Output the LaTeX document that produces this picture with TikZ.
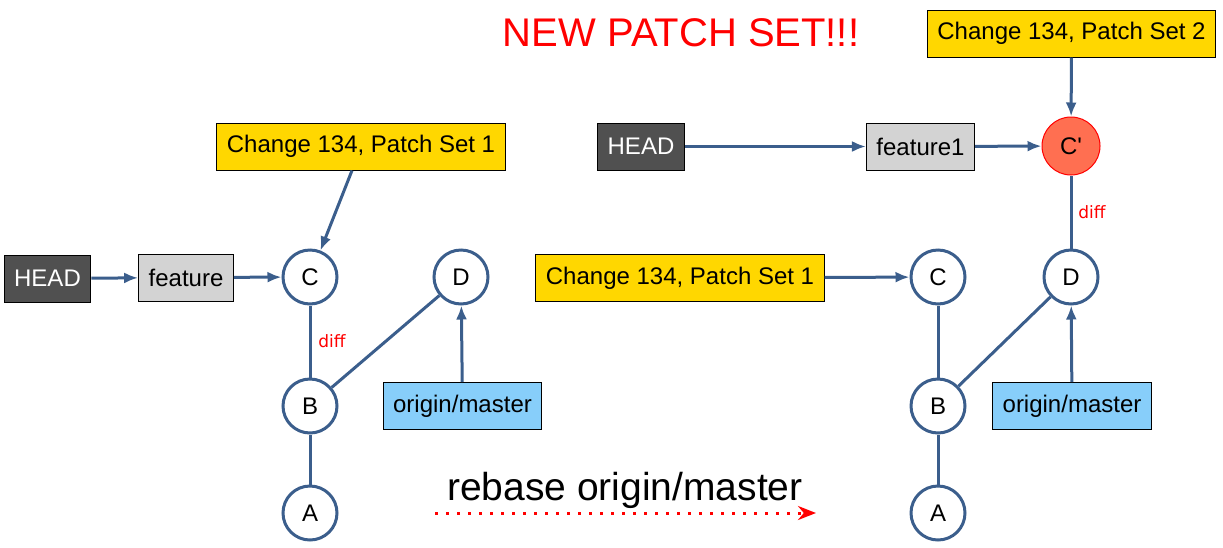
\documentclass[tikz,border=0pt]{standalone}
\usepackage{fontspec}
\setmainfont{Liberation Sans}
\newfontfamily\difffont{DejaVu Sans}
\usetikzlibrary{arrows.meta}
\definecolor{edgeblue}{RGB}{59,94,140}
\definecolor{headgray}{RGB}{80,80,80}
\definecolor{branchgray}{RGB}{211,211,211}
\definecolor{patchgold}{RGB}{255,215,0}
\definecolor{remoteblue}{RGB}{135,206,250}
\definecolor{newcommit}{RGB}{255,111,81}

\begin{document}
\begin{tikzpicture}[x=1pt, y=-1pt, font=\fontsize{24}{28}\selectfont, >={Latex[length=14pt,width=11pt]},
  link/.style={draw=edgeblue, line width=3pt},
  commit/.style={circle, draw=edgeblue, line width=3pt, fill=white, minimum size=54pt, inner sep=0pt},
  labelbox/.style={draw=black, line width=1pt, minimum height=47pt, inner xsep=10pt, inner ysep=0pt},
  headbox/.style={labelbox, fill=headgray, text=white},
  branch/.style={labelbox, fill=branchgray},
  patchset/.style={labelbox, fill=patchgold},
  remote/.style={labelbox, fill=remoteblue},
  difflabel/.style={text=red, font=\difffont\fontsize{17}{19}\selectfont}]
\useasboundingbox (0,0) rectangle (1223,547);

% before the rebase
\node[headbox]  (lhead) at (47.5,278.5) {HEAD};
\node[branch]   (lfeat) at (186,277.5) {feature};
\node[patchset] (lch)   at (361,146.5) {Change 134, Patch Set 1};
\node[remote]   (lom)   at (462.5,406) {origin/master};
\node[commit]   (lC) at (310,277) {C};
\node[commit]   (lD) at (461,277) {D};
\node[commit]   (lB) at (310,406) {B};
\node[commit]   (lA) at (310,513) {A};
\draw[link] (lC) -- (lB) -- (lA);
\draw[link] (lB) -- (lD);
\draw[link,->] (lhead) -- (lfeat);
\draw[link,->] (lfeat) -- (lC);
\draw[link,->] ([xshift=-9pt]lch.south) -- (lC);
\draw[link,->] (lom) -- (lD);
\node[difflabel] (ldiff) at (332,341) {diff};

% the rebase itself
\node[font=\fontsize{39}{44}\selectfont] (rebase) at (625,490) {rebase origin/master};
\coordinate (rbstart) at (435,513);
\coordinate (rbend) at (816,513);
\draw[red, line width=3pt, dash pattern=on 2.5pt off 8.5pt, -{Stealth[length=18pt,width=14pt]}] (rbstart) -- (rbend);
\node[text=red, font=\fontsize{40}{46}\selectfont] (newps) at (681,33) {NEW PATCH SET!!!};

% after the rebase
\node[headbox]  (rhead) at (641,146.5) {HEAD};
\node[branch]   (rfeat) at (920.5,146.5) {feature1};
\node[patchset] (rch2)  at (1071.5,33.5) {Change 134, Patch Set 2};
\node[patchset] (rch1)  at (680,278) {Change 134, Patch Set 1};
\node[remote]   (rom)   at (1072,406) {origin/master};
\node[commit, draw=red, line width=1pt, fill=newcommit, minimum size=58pt] (rCp) at (1071,146) {C\textquotesingle};
\node[commit]   (rD) at (1071,277) {D};
\node[commit]   (rC) at (938,277) {C};
\node[commit]   (rB) at (938,406) {B};
\node[commit]   (rA) at (938,513) {A};
\draw[link] (rC) -- (rB) -- (rA);
\draw[link] (rB) -- (rD);
\draw[link] (rD) -- (rCp);
\draw[link,->] (rch1) -- (rC);
\draw[link,->] (rhead) -- (rfeat);
\draw[link,->] (rfeat) -- (rCp);
\draw[link,->] (rch2) -- (rCp);
\draw[link,->] (rom) -- (rD);
\node[difflabel] (rdiff) at (1092,212) {diff};
\end{tikzpicture}
\end{document}
